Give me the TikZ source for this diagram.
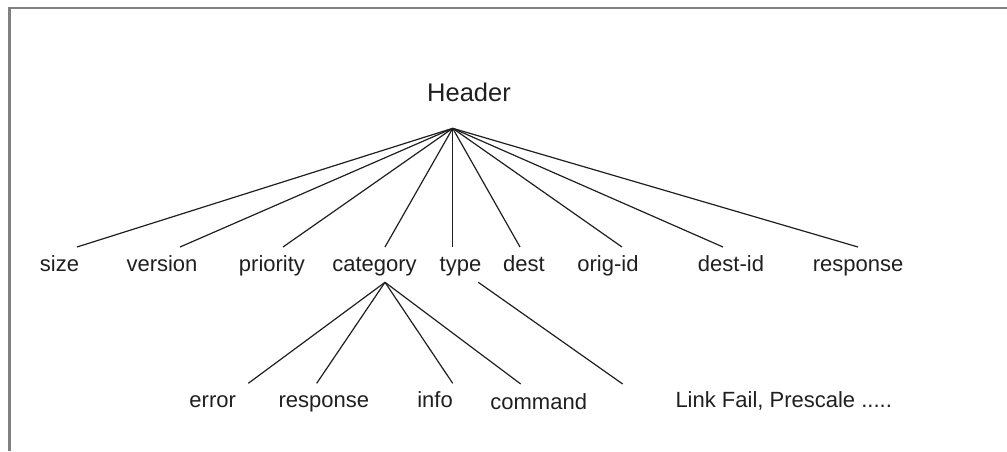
\documentclass[tikz,border=0pt]{standalone}
\usepackage{fontspec}
\setmainfont{Liberation Sans}
\begin{document}
\begin{tikzpicture}[x=1pt,y=-1pt,
  lbl/.style={anchor=base,inner sep=0pt,font=\fontsize{22}{26}\selectfont,text=black!88},
  toplbl/.style={anchor=base,inner sep=0pt,font=\fontsize{25.5}{30}\selectfont,text=black!88},
  branch/.style={line width=1.2pt,draw=black!88},
  frame/.style={line width=2.5pt,draw=black!50}]
\useasboundingbox (0,0) rectangle (1007,451);
% open frame: top and left edges
\draw[frame] (1007,8) -- (9.3,8) -- (9.3,451);

% root
\node[toplbl] (header) at (469,101.7) {Header};
\coordinate (hdr-apex) at (452.7,128.3);

% header fields
\node[lbl] (size)     at (59.5,271.7)  {size};
\node[lbl] (version)  at (162,271.7)   {version};
\node[lbl] (priority) at (272,271.7)   {priority};
\node[lbl] (category) at (374.5,271.7) {category};
\node[lbl] (type)     at (460.5,271.7) {type};
\node[lbl] (dest)     at (524,271.7)   {dest};
\node[lbl] (origid)   at (608,271.7)   {orig-id};
\node[lbl] (destid)   at (731,271.7)   {dest-id};
\node[lbl] (resp)     at (858,271.7)   {response};

\coordinate (size-in)     at (77,247);
\coordinate (version-in)  at (180,247);
\coordinate (priority-in) at (283,247);
\coordinate (category-in) at (385,247);
\coordinate (type-in)     at (452.7,247);
\coordinate (dest-in)     at (520,247);
\coordinate (origid-in)   at (622,247);
\coordinate (destid-in)   at (723,247);
\coordinate (resp-in)     at (858,247);

\foreach \c in {size,version,priority,category,type,dest,origid,destid,resp}
  \draw[branch] (hdr-apex) -- (\c-in);

% category values
\node[lbl] (error)   at (212.7,407.7) {error};
\node[lbl] (cresp)   at (323.8,407.7) {response};
\node[lbl] (info)    at (435,407.7)   {info};
\node[lbl] (command) at (538.7,409.3) {command};
\coordinate (cat-apex) at (385,282.3);
\coordinate (error-in)   at (248.3,383.3);
\coordinate (cresp-in)   at (316.7,383.3);
\coordinate (info-in)    at (452.7,383.3);
\coordinate (command-in) at (520.7,384);
\foreach \c in {error,cresp,info,command}
  \draw[branch] (cat-apex) -- (\c-in);

% type values
\node[lbl] (typevals) at (783.7,407.3) {Link Fail, Prescale .....};
\coordinate (type-out) at (478.3,282.3);
\coordinate (typevals-in) at (622.7,384);
\draw[branch] (type-out) -- (typevals-in);
\end{tikzpicture}
\end{document}
